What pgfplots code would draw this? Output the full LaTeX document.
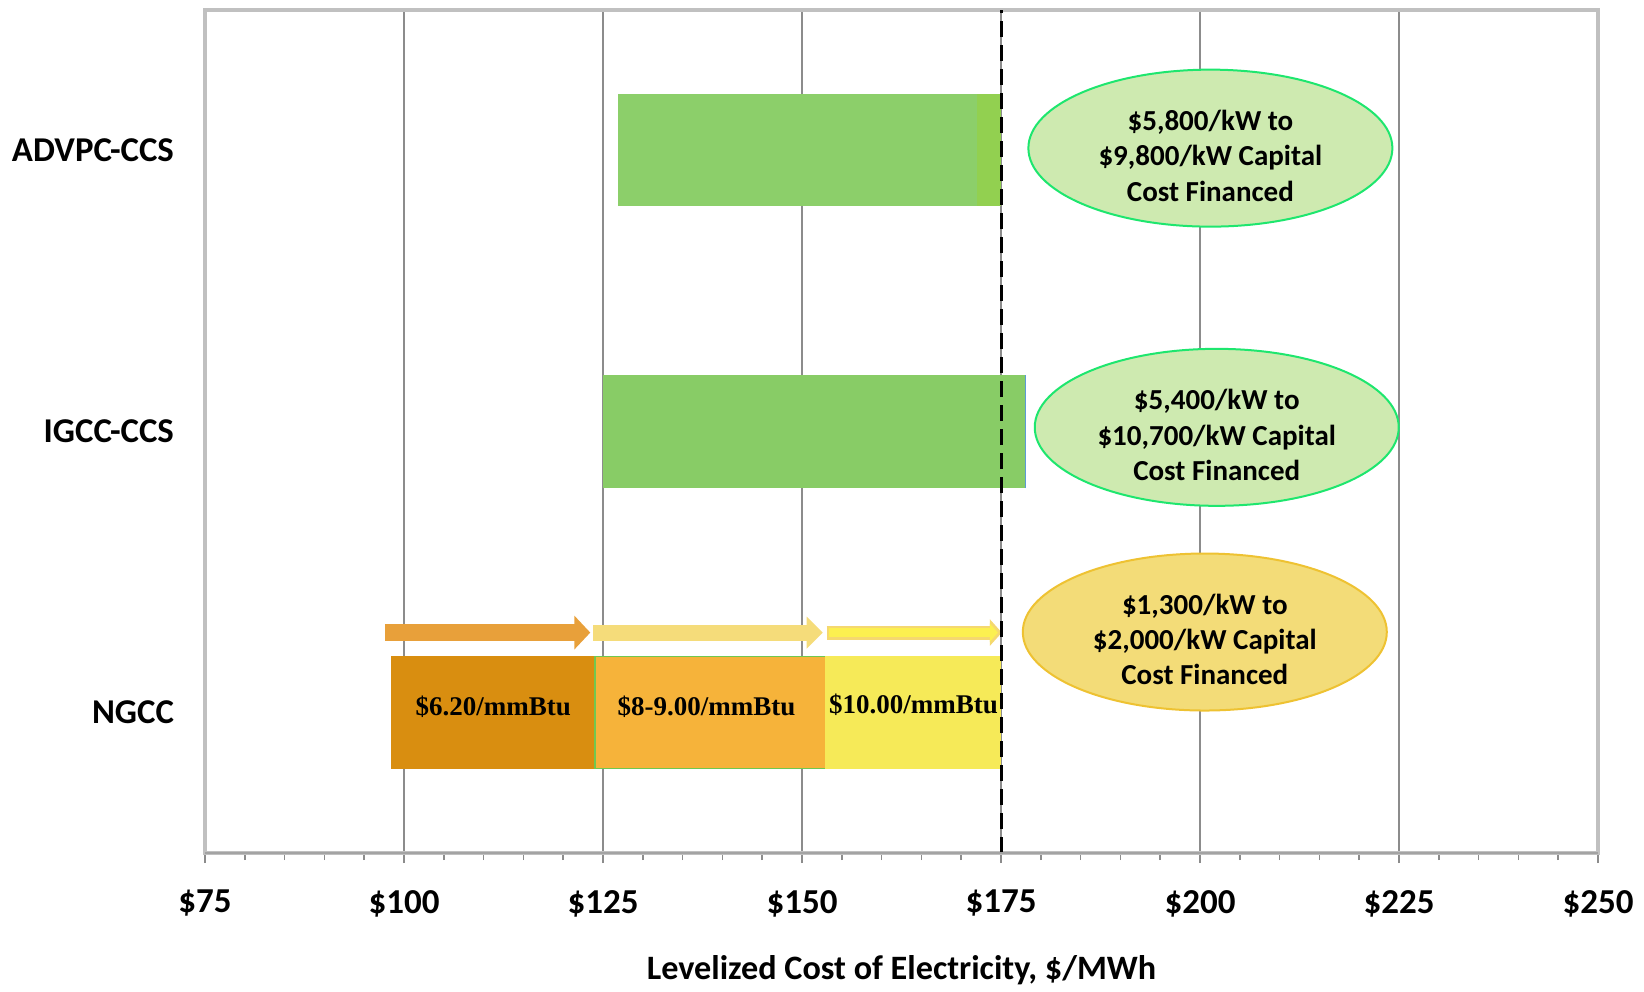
\documentclass[border=0pt]{standalone}
\usepackage{fontspec}
\setmainfont{Carlito}
\newfontfamily\barfont{Liberation Serif}
\usepackage{pgfplots}
\pgfplotsset{compat=1.18}
\usetikzlibrary{shapes.geometric, arrows.meta}

\definecolor{framegray}{RGB}{192,192,192}
\definecolor{gridgray}{RGB}{140,140,140}
\definecolor{advgreen}{RGB}{140,207,106}
\definecolor{advgreenb}{RGB}{146,208,80}
\definecolor{igccgreen}{RGB}{136,204,102}
\definecolor{edgeblue}{RGB}{91,155,213}
\definecolor{ngccA}{RGB}{217,142,16}
\definecolor{ngccB}{RGB}{246,179,58}
\definecolor{ngccC}{RGB}{246,234,88}
\definecolor{thingreen}{RGB}{112,200,80}
\definecolor{arrA}{RGB}{232,160,58}
\definecolor{arrB}{RGB}{245,220,122}
\definecolor{arrC}{RGB}{252,240,80}
\definecolor{arrCedge}{RGB}{245,216,112}
\definecolor{ellgreen}{RGB}{206,234,176}
\definecolor{ellgreenedge}{RGB}{30,230,110}
\definecolor{ellgold}{RGB}{243,220,120}
\definecolor{ellgoldedge}{RGB}{238,194,50}

\tikzset{
  capnote/.style={ellipse, minimum width=182pt, minimum height=78.5pt, inner sep=0pt, line width=1pt},
  captext/.style={align=center, inner sep=0pt, yshift=-3.8pt, font=\fontsize{14.5}{17.6}\selectfont\bfseries},
  segtext/.style={font=\barfont\fontsize{13.5}{16}\selectfont\bfseries}
}

\begin{document}
\begin{tikzpicture}
\begin{axis}[
    scale only axis,
    width=696.5pt,
    height=421.75pt,
    xmin=75, xmax=250,
    ymin=-0.5, ymax=2.5,
    xtick={75,100,...,250},
    xticklabels={\$75,\$100,\$125,\$150,\$175,\$200,\$225,\$250},
    minor x tick num=4,
    xtick pos=bottom,
    tick align=outside,
    major tick length=5pt,
    minor tick length=3.5pt,
    x tick style={gridgray, line width=0.75pt},
    xmajorgrids,
    major grid style={gridgray, line width=0.75pt},
    ytick={0,1,2},
    yticklabels={NGCC,IGCC-CCS,ADVPC-CCS},
    y tick style={draw=none},
    yticklabel style={font=\fontsize{17.4}{20}\selectfont\bfseries, xshift=-7pt},
    xticklabel style={font=\fontsize{17.5}{20}\selectfont\bfseries, yshift=-10pt},
    xlabel={Levelized Cost of Electricity, \$/MWh},
    xlabel style={font=\fontsize{17.1}{20}\selectfont\bfseries, yshift=-12.5pt},
    axis line style={framegray, line width=2pt},
    clip=false,
]
% invisible frame that sets the page size
\path (rel axis cs:-0.1472,-0.1506) rectangle (rel axis cs:1.0330,1.0113);

% ADVPC-CCS
\addplot[fill=advgreen, draw=none] coordinates {(126.9,1.8) (172.0,1.8) (172.0,2.2) (126.9,2.2)} -- cycle;
\addplot[fill=advgreenb, draw=none] coordinates {(172.0,1.8) (175.0,1.8) (175.0,2.2) (172.0,2.2)} -- cycle;

% IGCC-CCS
\addplot[fill=igccgreen, draw=none] coordinates {(125.0,0.8) (178.1,0.8) (178.1,1.2) (125.0,1.2)} -- cycle;
\addplot[edgeblue, line width=0.75pt] coordinates {(178.1,0.8) (178.1,1.2)};

% NGCC fuel price segments
\addplot[fill=ngccA, draw=none] coordinates {(98.4,-0.2) (124.0,-0.2) (124.0,0.2) (98.4,0.2)} -- cycle;
\addplot[fill=ngccB, draw=thingreen, line width=0.6pt] coordinates {(124.0,-0.2) (152.9,-0.2) (152.9,0.2) (124.0,0.2)} -- cycle;
\addplot[fill=ngccC, draw=none] coordinates {(152.9,-0.2) (175.0,-0.2) (175.0,0.2) (152.9,0.2)} -- cycle;

% arrows above NGCC
\addplot[arrA, line width=8.5pt, -{Triangle[length=8pt, width=16.5pt]}] coordinates {(97.6,0.284) (123.4,0.284)};
\addplot[arrB, line width=8pt, -{Triangle[length=8pt, width=15.5pt]}] coordinates {(123.8,0.284) (152.6,0.284)};
\addplot[arrCedge, line width=7pt, -{Triangle[length=6pt, width=13pt]}] coordinates {(153.1,0.284) (175.1,0.284)};
\addplot[arrC, line width=4.6pt, -{Triangle[length=4pt, width=9pt]}] coordinates {(153.35,0.284) (174.6,0.284)};

% segment labels
\node[segtext] at (axis cs:111.2,0.02) {\$6.20/mmBtu};
\node[segtext] at (axis cs:138.0,0.02) {\$8-9.00/mmBtu};
\node[segtext] at (axis cs:164.0,0.027) {\$10.00/mmBtu};

% dashed reference line
\addplot[black, line width=1.5pt, dash pattern=on 8pt off 4pt] coordinates {(175,-0.5) (175,2.5)};

% capital cost notes
\node[capnote, fill=ellgreen, draw=ellgreenedge] at (axis cs:201.3,2.007) {};
\node[captext] at (axis cs:201.3,2.007) {\$5,800/kW to\\\$9,800/kW Capital\\Cost Financed};
\node[capnote, fill=ellgreen, draw=ellgreenedge] at (axis cs:202.1,1.014) {};
\node[captext] at (axis cs:202.1,1.014) {\$5,400/kW to\\\$10,700/kW Capital\\Cost Financed};
\node[capnote, fill=ellgold, draw=ellgoldedge] at (axis cs:200.6,0.286) {};
\node[captext] at (axis cs:200.6,0.286) {\$1,300/kW to\\\$2,000/kW Capital\\Cost Financed};

% bottom axis line
\draw[gridgray!80, line width=1pt] (rel axis cs:0,0) -- (rel axis cs:1,0);
\end{axis}
\end{tikzpicture}
\end{document}
